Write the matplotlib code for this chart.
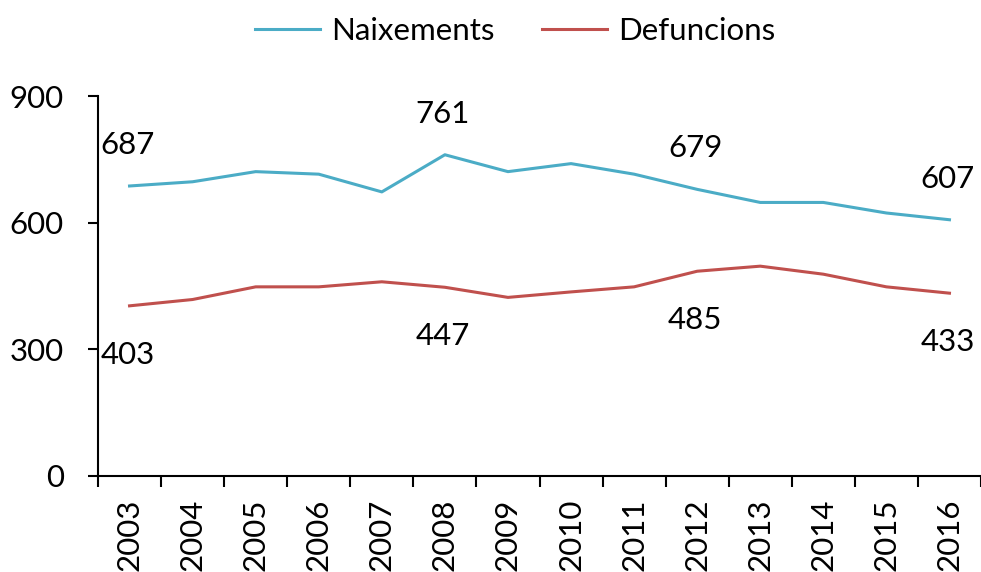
import numpy as np
import matplotlib
matplotlib.use("Agg")
import matplotlib.pyplot as plt
from matplotlib.ticker import FixedLocator, NullFormatter

plt.rcParams['font.family'] = ['Lato', 'DejaVu Sans']

years = ['2003', '2004', '2005', '2006', '2007', '2008', '2009',
         '2010', '2011', '2012', '2013', '2014', '2015', '2016']
naixements = [687, 697, 721, 715, 673, 761, 721, 740, 715, 679, 648, 648, 623, 607]
defuncions = [403, 418, 448, 448, 460, 447, 423, 436, 448, 485, 497, 478, 448, 433]
labelled = [0, 5, 9, 13]  # years with a value label

BLUE = '#4BACC6'
RED = '#C0504D'
FS = 22.5

fig = plt.figure(figsize=(9.81, 5.72), dpi=100)
ax = fig.add_axes([0.0999, 0.168, 0.9001, 0.664])

x = np.arange(len(years))
ax.plot(x, naixements, color=BLUE, lw=2.2, label='Naixements')
ax.plot(x, defuncions, color=RED, lw=2.2, label='Defuncions')

# value labels
for i in labelled:
    ax.annotate(str(naixements[i]), (x[i], naixements[i]), xytext=(-2, 41),
                textcoords='offset pixels', ha='center', va='center', fontsize=FS)
    ax.annotate(str(defuncions[i]), (x[i], defuncions[i]), xytext=(-2, -49),
                textcoords='offset pixels', ha='center', va='center', fontsize=FS)

ax.set_xlim(-0.5, len(years) - 0.5)
ax.set_ylim(0, 900)
ax.set_yticks([0, 300, 600, 900])
ax.tick_params(axis='y', direction='out', length=7.5, width=1.5, labelsize=FS, pad=17)

ax.set_xticks(x)
ax.set_xticklabels(years, rotation=90, fontsize=FS)
ax.tick_params(axis='x', which='major', length=0, pad=16)
ax.xaxis.set_minor_locator(FixedLocator(np.arange(-0.5, len(years) + 0.5, 1)))
ax.xaxis.set_minor_formatter(NullFormatter())
ax.tick_params(axis='x', which='minor', direction='out', length=8, width=1.5)

for s in ['top', 'right']:
    ax.spines[s].set_visible(False)
for s in ['left', 'bottom']:
    ax.spines[s].set_linewidth(1.5)

fig.legend(loc='upper center', bbox_to_anchor=(0.525, 1.02), ncol=2, frameon=False,
           fontsize=FS, handlelength=2.1, handletextpad=0.35, columnspacing=1.5)

fig.savefig('out.png', dpi=100)
